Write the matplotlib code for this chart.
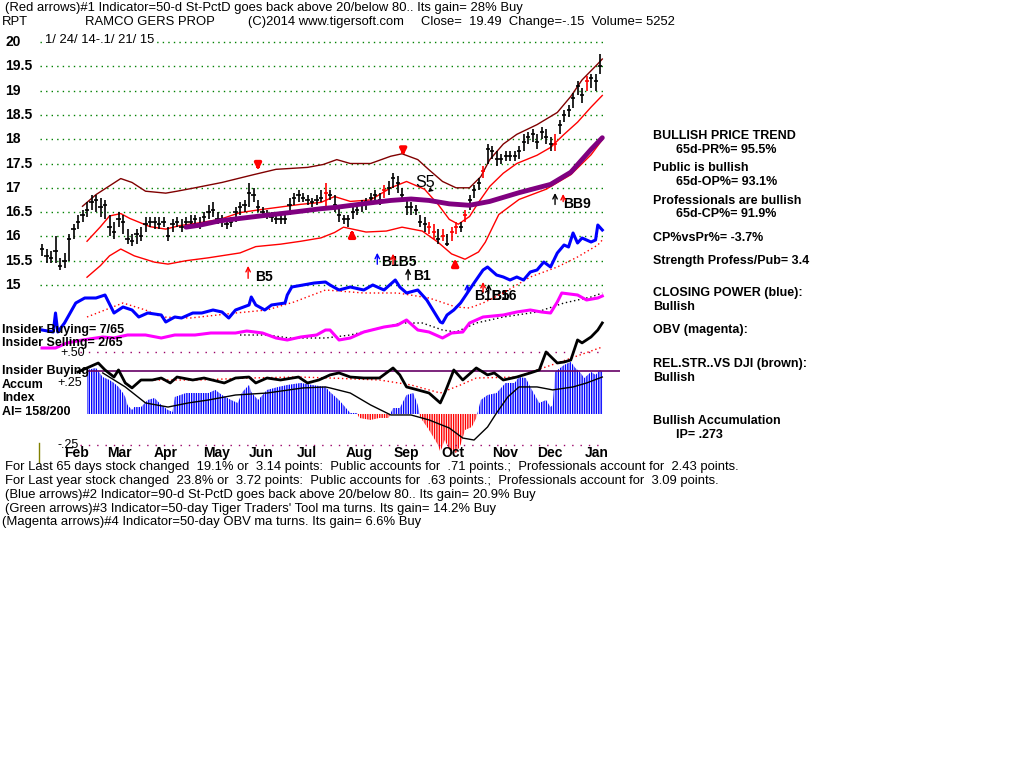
import matplotlib
matplotlib.use('Agg')
import matplotlib.pyplot as plt
import matplotlib.transforms as mtrans
import numpy as np

# ---------------- data ----------------
# daily bars sampled every 2 trading days (1/24/14 .. 1/21/15)
closes = [15.75, 15.6, 15.55, 15.7, 15.4, 15.5, 15.95, 16.15, 16.3, 16.45, 16.55, 16.7, 16.75, 16.6, 16.65,
          16.2, 16.1, 16.35, 16.3, 15.95, 15.9, 16.05, 16.0, 16.25, 16.3, 16.3, 16.25, 16.3, 16.0, 16.25,
          16.3, 16.2, 16.3, 16.3, 16.35, 16.25, 16.4, 16.5, 16.55, 16.35, 16.35, 16.25, 16.3, 16.5, 16.6,
          16.65, 16.9, 16.85, 16.6, 16.5, 16.45, 16.4, 16.35, 16.35, 16.35, 16.65, 16.8, 16.85, 16.8, 16.75,
          16.7, 16.75, 16.8, 16.9, 16.85, 16.65, 16.45, 16.35, 16.35, 16.5, 16.55, 16.65, 16.7, 16.8, 16.85,
          16.75, 16.95, 17.0, 17.2, 17.1, 16.85, 16.6, 16.6, 16.55, 16.3, 16.25, 16.2, 16.1, 15.95, 16.0,
          15.85, 16.1, 16.2, 16.2, 16.45, 16.75, 16.95, 17.1, 17.35, 17.8, 17.75, 17.6, 17.6, 17.65, 17.65,
          17.65, 17.75, 17.95, 18.05, 18.1, 17.95, 18.15, 18.05, 17.9, 17.9, 18.3, 18.5, 18.6, 18.85, 19.1,
          18.9, 19.2, 19.25, 19.2, 19.5]
highs = [15.85, 15.75, 15.7, 16.0, 15.55, 15.65, 16.05, 16.25, 16.45, 16.55, 16.7, 16.85, 16.85, 16.8, 16.75,
         16.45, 16.3, 16.5, 16.45, 16.15, 16.05, 16.15, 16.2, 16.4, 16.4, 16.4, 16.4, 16.4, 16.2, 16.35,
         16.4, 16.35, 16.4, 16.45, 16.45, 16.4, 16.5, 16.65, 16.7, 16.5, 16.45, 16.35, 16.4, 16.6, 16.7,
         16.75, 17.1, 17.0, 16.75, 16.6, 16.55, 16.5, 16.45, 16.45, 16.45, 16.8, 16.9, 16.95, 16.9, 16.85,
         16.8, 16.85, 16.95, 17.1, 16.95, 16.85, 16.6, 16.45, 16.45, 16.6, 16.65, 16.75, 16.8, 16.9, 16.95,
         16.9, 17.05, 17.15, 17.3, 17.25, 17.0, 16.75, 16.7, 16.65, 16.45, 16.4, 16.3, 16.25, 16.15, 16.15,
         16.05, 16.2, 16.3, 16.3, 16.55, 16.85, 17.05, 17.2, 17.45, 17.9, 17.85, 17.75, 17.7, 17.75, 17.75,
         17.75, 17.85, 18.1, 18.15, 18.2, 18.1, 18.25, 18.2, 18.05, 18.1, 18.4, 18.6, 18.7, 18.95, 19.2,
         19.05, 19.3, 19.35, 19.35, 19.75]
lows = [15.6, 15.45, 15.45, 15.45, 15.3, 15.35, 15.5, 15.95, 16.15, 16.3, 16.4, 16.55, 16.5, 16.4, 16.35,
        16.0, 15.95, 16.2, 16.05, 15.85, 15.8, 15.85, 15.9, 16.1, 16.2, 16.15, 16.15, 16.2, 15.9, 16.1,
        16.2, 16.1, 16.15, 16.2, 16.2, 16.15, 16.3, 16.35, 16.4, 16.25, 16.2, 16.15, 16.2, 16.3, 16.45,
        16.5, 16.6, 16.7, 16.5, 16.4, 16.35, 16.3, 16.25, 16.25, 16.25, 16.45, 16.65, 16.7, 16.7, 16.65,
        16.6, 16.65, 16.7, 16.6, 16.75, 16.5, 16.3, 16.25, 16.2, 16.35, 16.45, 16.5, 16.55, 16.65, 16.7,
        16.65, 16.8, 16.85, 17.0, 16.9, 16.7, 16.45, 16.45, 16.45, 16.2, 16.1, 16.05, 15.95, 15.85, 15.9,
        15.8, 15.9, 16.05, 16.1, 16.3, 16.55, 16.8, 16.95, 17.2, 17.5, 17.6, 17.45, 17.5, 17.55, 17.55,
        17.55, 17.6, 17.75, 17.9, 17.95, 17.8, 18.0, 17.9, 17.75, 17.75, 18.1, 18.35, 18.45, 18.65, 18.9,
        18.75, 19.0, 19.05, 19.0, 19.35]
red_bars = [63, 76, 86, 87, 89, 91, 92, 94, 98, 114, 121]

upper_days = [18, 24, 35, 40, 46, 55, 60, 68, 80, 94, 104, 118, 125, 131, 137, 146, 155, 160, 167, 172, 178,
              184, 190, 195, 199, 205, 211, 220, 229, 235, 240, 247, 249]
upper_band = [16.62, 16.86, 17.19, 17.11, 16.93, 16.89, 16.93, 17.0, 17.11, 17.27, 17.38, 17.42, 17.48, 17.58,
              17.5, 17.5, 17.65, 17.7, 17.58, 17.37, 17.13, 17.0, 17.0, 17.23, 17.58, 17.9, 18.1, 18.3, 18.55,
              18.88, 19.22, 19.55, 19.65]
mid_days = [20, 26, 30, 35, 39, 48, 55, 61, 70, 79, 88, 97, 115, 124, 130, 137, 146, 155, 162, 170, 176, 181,
            185, 190, 194, 199, 205, 211, 220, 226, 232, 238, 244, 249]
mid_band = [15.9, 16.2, 16.42, 16.47, 16.37, 16.2, 16.15, 16.22, 16.28, 16.35, 16.49, 16.55, 16.66, 16.7, 16.82,
            16.72, 16.75, 17.0, 17.13, 16.97, 16.66, 16.35, 16.25, 16.41, 16.7, 17.03, 17.3, 17.5, 17.67, 17.83,
            18.1, 18.35, 18.66, 18.9]
lower_days = [20, 26, 30, 35, 41, 50, 56, 64, 74, 88, 95, 106, 115, 124, 130, 134, 144, 153, 160, 169, 176, 182,
              188, 194, 197, 203, 212, 224, 235, 244, 249]
lower_band = [15.16, 15.4, 15.6, 15.74, 15.6, 15.47, 15.43, 15.5, 15.56, 15.66, 15.79, 15.84, 15.9, 15.97, 16.08,
              16.19, 16.09, 16.11, 16.19, 16.11, 15.88, 15.64, 15.53, 15.68, 15.88, 16.45, 16.76, 16.97, 17.27,
              17.68, 17.99]
ma65_days = [64, 70, 79, 88, 97, 110, 124, 131, 146, 155, 164, 172, 181, 190, 199, 212, 226, 235, 244, 249]
ma65 = [16.19, 16.23, 16.32, 16.37, 16.42, 16.49, 16.57, 16.6, 16.69, 16.74, 16.77, 16.74, 16.67, 16.64, 16.72,
        16.9, 17.07, 17.32, 17.79, 18.03]

cp_days = [0, 5, 6, 7, 10, 15, 19, 24, 28, 32, 36, 40, 43, 47, 53, 55, 59, 62, 67, 71, 76, 80, 83, 86, 92, 93,
           95, 99, 102, 108, 109, 111, 116, 121, 126, 128, 132, 137, 143, 147, 152, 157, 159, 162, 167, 171,
           177, 178, 180, 183, 186, 189, 192, 196, 198, 202, 205, 208, 211, 214, 217, 220, 223, 226, 229, 232,
           234, 236, 238, 240, 244, 246, 247, 249]
closing_power = [20, 18, 37, 18, 27, 47, 52, 52, 55, 37, 43, 40, 33, 37, 35, 28, 33, 32, 37, 37, 40, 38, 32, 40,
                 45, 53, 45, 40, 45, 47, 55, 63, 65, 67, 68, 65, 60, 63, 60, 65, 60, 70, 63, 57, 60, 50, 28, 27,
                 35, 40, 47, 57, 67, 80, 83, 75, 73, 70, 73, 70, 78, 80, 88, 83, 97, 105, 103, 117, 107, 112,
                 108, 110, 125, 120]
cpma_days = [20, 36, 46, 53, 66, 86, 100, 112, 126, 143, 158, 172, 184, 190, 196, 205, 217, 229, 238, 247, 249]
cp_ma = [33, 47, 40, 33, 32, 37, 40, 48, 60, 57, 57, 52, 43, 42, 47, 57, 73, 83, 93, 105, 110]

obv_days = [0, 6, 11, 18, 27, 32, 38, 46, 53, 59, 68, 75, 86, 91, 98, 104, 109, 115, 122, 126, 128, 132, 137,
            143, 152, 158, 162, 167, 172, 178, 182, 187, 190, 196, 205, 211, 217, 222, 226, 229, 231, 238, 242,
            247, 249]
obv = [12, 12, 17, 20, 23, 22, 25, 25, 22, 25, 25, 27, 27, 29, 27, 22, 20, 23, 25, 30, 30, 20, 22, 28, 33, 35,
       40, 30, 28, 22, 27, 28, 37, 43, 45, 48, 50, 48, 47, 58, 67, 65, 60, 62, 64]
obvma_days = [88, 100, 110, 126, 137, 150, 160, 169, 178, 184, 193, 205, 220, 232, 244, 249]
obv_ma = [25, 25, 22, 22, 25, 32, 37, 37, 30, 28, 37, 43, 48, 57, 63, 67]

acc_days = [20, 24, 27, 30, 32, 34, 36, 37, 38, 40, 41, 44, 47, 50, 53, 56, 58, 59, 64, 68, 74, 77, 80, 84, 87,
            89, 92, 93, 96, 98, 100, 105, 109, 115, 120, 126, 128, 132, 137, 140, 141, 146, 150, 154, 156, 159,
            162, 165, 167, 168, 172, 176, 177, 179, 181, 184, 186, 188, 191, 193, 195, 198, 202, 206, 210, 212,
            215, 217, 219, 221, 224, 226, 227, 228, 232, 235, 237, 239, 241, 244, 246, 248, 249]
accum_index = [0.355, 0.371, 0.298, 0.274, 0.25, 0.218, 0.169, 0.137, 0.073, 0.032, 0.056, 0.056, 0.113, 0.129,
               0.073, 0.032, 0.016, 0.137, 0.169, 0.169, 0.169, 0.194, 0.153, 0.113, 0.089, 0.177, 0.234, 0.177,
               0.113, 0.153, 0.194, 0.218, 0.234, 0.25, 0.234, 0.218, 0.177, 0.113, 0.008, 0.008, -0.032, -0.048,
               -0.032, -0.032, 0.048, 0.048, 0.153, 0.169, 0.073, -0.024, -0.129, -0.25, -0.306, -0.21, -0.29,
               -0.315, -0.25, -0.129, -0.105, -0.032, 0.113, 0.153, 0.169, 0.25, 0.25, 0.298, 0.29, 0.218, 0.153,
               0.089, 0.113, 0.056, 0.073, 0.339, 0.395, 0.42, 0.371, 0.339, 0.29, 0.339, 0.315, 0.355, 0.339]
rs_days = [16, 20, 25, 28, 32, 34, 37, 40, 44, 49, 53, 57, 60, 67, 72, 81, 86, 92, 95, 100, 106, 114, 118, 123,
           126, 128, 132, 137, 143, 150, 156, 159, 162, 167, 172, 177, 179, 183, 187, 193, 198, 201, 205, 211,
           217, 221, 224, 229, 232, 235, 238, 240, 244, 247, 249]
rel_strength = [0.339, 0.371, 0.411, 0.355, 0.298, 0.355, 0.25, 0.21, 0.274, 0.274, 0.29, 0.25, 0.298, 0.274,
                0.29, 0.25, 0.29, 0.298, 0.25, 0.29, 0.274, 0.298, 0.25, 0.274, 0.298, 0.315, 0.331, 0.298, 0.29,
                0.29, 0.371, 0.315, 0.218, 0.194, 0.169, 0.089, 0.169, 0.355, 0.274, 0.371, 0.315, 0.331, 0.274,
                0.298, 0.331, 0.355, 0.5, 0.411, 0.419, 0.435, 0.597, 0.573, 0.621, 0.677, 0.734]
rsma_days = [50, 70, 92, 114, 128, 150, 164, 177, 186, 193, 211, 229, 249]
rs_ma = [0.274, 0.274, 0.29, 0.298, 0.29, 0.274, 0.234, 0.169, 0.234, 0.29, 0.298, 0.411, 0.54]
aima_days = [27, 37, 46, 56, 65, 74, 86, 100, 116, 126, 128, 137, 146, 155, 164, 172, 181, 187, 192, 198, 202,
             207, 212, 220, 227, 236, 242, 249]
ai_ma = [0.331, 0.218, 0.089, 0.056, 0.089, 0.113, 0.153, 0.169, 0.21, 0.218, 0.21, 0.169, 0.073, -0.008, -0.008,
         -0.048, -0.113, -0.194, -0.21, -0.105, 0.008, 0.137, 0.218, 0.218, 0.194, 0.218, 0.25, 0.298]
insider_level = 0.347

price_levels = [20, 19.5, 19, 18.5, 18, 17.5, 17, 16.5, 16, 15.5, 15]
price_labels = ['20', '19.5', '19', '18.5', '18', '17.5', '17', '16.5', '16', '15.5', '15']
month_names = ['Feb', 'Mar', 'Apr', 'May', 'Jun', 'Jul', 'Aug', 'Sep', 'Oct', 'Nov', 'Dec', 'Jan']
month_days = [15.5, 34.5, 55, 77.5, 97.5, 117.5, 141, 162, 182.5, 206, 225.5, 246.5]

# ---------------- figure ----------------
W, H = 1024, 768
fig = plt.figure(figsize=(W / 100, H / 100), dpi=100)
fig.patch.set_facecolor('white')
plt.rcParams['hatch.linewidth'] = 1.0

SANS = ['Liberation Sans', 'DejaVu Sans']
XLIM = (-0.889, 250.2)


def px_axes(x0, y0, x1, y1):
    ax = fig.add_axes([x0 / W, 1 - y1 / H, (x1 - x0) / W, (y1 - y0) / H])
    ax.set_axis_off()
    ax.patch.set_alpha(0)
    ax.set_xlim(*XLIM)
    return ax


def ftext(x, y, s, size=9.4, family=None, weight='normal', color='black', ha='left', **kw):
    fig.text(x / W, 1 - y / H, s, fontsize=size, family=family or SANS, weight=weight,
             color=color, ha=ha, va='center', **kw)


# price panel
axp = px_axes(40, 32.28, 605, 309.3)
axp.set_ylim(14.5, 20.2)
for lvl in price_levels:
    axp.axhline(lvl, color='#008000', ls=(0, (1, 3)), lw=1, zorder=1)
ylab_tr = mtrans.blended_transform_factory(fig.transFigure, axp.transData)
for lvl, lab in zip(price_levels, price_labels):
    axp.text(5 / W, lvl, lab, transform=ylab_tr, fontsize=10, family=SANS, weight='bold',
             va='center', ha='left', clip_on=False)

axp.plot(upper_days, upper_band, color='#800000', lw=1, zorder=2)
axp.plot(mid_days, mid_band, color='#ff0000', lw=1, zorder=2)
axp.plot(lower_days, lower_band, color='#ff0000', lw=1, zorder=2)

bar_days = np.arange(len(closes)) * 2
bar_cols = ['#ff0000' if i in red_bars else 'black' for i in range(len(closes))]
axp.vlines(bar_days, lows, highs, colors=bar_cols, lw=1.2, zorder=3)
axp.hlines(closes, bar_days - 0.9, bar_days + 0.9, colors=bar_cols, lw=1.2, zorder=3)
axp.plot(ma65_days, ma65, color='#800080', lw=3.5, zorder=4, solid_capstyle='round')

# signal arrows (thick red)
for d, tail, tip in [(96, 17.55, 17.3), (160.5, 17.85, 17.6), (137.8, 15.95, 16.2), (183.6, 15.35, 15.6)]:
    axp.annotate('', xy=(d, tip), xytext=(d, tail),
                 arrowprops=dict(arrowstyle='-|>', color='#ff0000', lw=2.5, mutation_scale=9), zorder=5)
# thin arrows
thin = [(91.6, 15.08, 15.45, '#ff0000'), (149, 15.37, 15.72, '#0000ff'), (156, 15.37, 15.70, '#ff0000'),
        (162.7, 15.05, 15.40, 'black'), (189, 14.77, 15.08, '#0000ff'), (196, 14.8, 15.12, '#ff0000'),
        (198.5, 14.77, 15.08, 'black'), (228, 16.6, 16.95, 'black'), (231.6, 16.66, 16.93, '#ff0000')]
for d, tail, tip, c in thin:
    axp.annotate('', xy=(d, tip), xytext=(d, tail),
                 arrowprops=dict(arrowstyle='->', color=c, lw=1, mutation_scale=8), zorder=5)
axp.annotate('', xy=(170.5, 16.88), xytext=(174, 17.0),
             arrowprops=dict(arrowstyle='->', color='black', lw=1, mutation_scale=6))
for d, p, s in [(94.5, 15.17, 'B5'), (150.5, 15.47, 'B1B5'), (165, 15.18, 'B1'), (166, 17.1, 'S5'),
                (192, 14.77, 'B1B5'), (199.5, 14.77, 'B16'), (231.5, 16.66, 'BB9')]:
    axp.text(d, p, s, fontsize=10 if s != 'S5' else 11.5, family=SANS,
             weight='bold' if s != 'S5' else 'normal', va='center', ha='left')

# closing power
axc = px_axes(40, 220, 605, 350)
axc.set_ylim(0, 130)
axc.plot(cpma_days, cp_ma, color='#ff0000', lw=1, ls=(0, (1, 2)))
axc.plot(cp_days, closing_power, color='#0000ff', lw=2.2)

# OBV
axo = px_axes(40, 280, 605, 360)
axo.set_ylim(0, 80)
axo.plot(obvma_days, obv_ma, color='black', lw=1, ls=(0, (1, 2)))
axo.plot(obv_days, obv, color='#ff00ff', lw=2.2)

# accumulation / relative strength panel
axa = px_axes(40, 315, 605, 460)
axa.set_ylim(-0.371, 0.798)
axa.hlines([0.5, -0.25], 17, 250, colors='#990066', lw=1, ls=(0, (1, 5)))
acc_d = np.array(acc_days, dtype=float)
acc_v = np.array(accum_index)
axa.fill_between(acc_d, 0, acc_v, where=acc_v >= 0, interpolate=True, facecolor='none',
                 edgecolor='#0000ff', hatch='|' * 7, lw=0)
axa.fill_between(acc_d, 0, acc_v, where=acc_v <= 0, interpolate=True, facecolor='none',
                 edgecolor='#ff0000', hatch='|' * 7, lw=0)
axa.hlines(insider_level, 20, 257, colors='#660066', lw=1.2, clip_on=False)
axa.plot(aima_days, ai_ma, color='black', lw=1)
axa.plot(rsma_days, rs_ma, color='#ff0000', lw=1, ls=(0, (1, 2)))
axa.plot(rs_days, rel_strength, color='black', lw=2)

mon_tr = mtrans.blended_transform_factory(axa.transData, fig.transFigure)
for d, m in zip(month_days, month_names):
    axa.text(d, 1 - 453 / H, m, transform=mon_tr, fontsize=10, family=SANS, weight='bold',
             ha='center', va='center', clip_on=False)
fig.add_artist(plt.Line2D([39 / W, 39 / W], [1 - 443 / H, 1 - 462 / H], color='#808000', lw=1))

# ---------------- texts ----------------
ftext(5, 8, "(Red arrows)#1 Indicator=50-d St-PctD goes back above 20/below 80.. Its gain= 28% Buy")
ftext(2, 22, "RPT")
ftext(85, 22, "RAMCO GERS PROP")
ftext(248, 22, "(C)2014 www.tigersoft.com")
ftext(421, 22, "Close=  19.49  Change=-.15  Volume= 5252")
ftext(45, 40, "1/ 24/ 14-.1/ 21/ 15", bbox=dict(facecolor='white', edgecolor='none', pad=0.5))

ftext(2, 330, "Insider Buying= 7/65", size=9, weight='bold')
ftext(2, 343, "Insider Selling= 2/65", size=9, weight='bold')
ftext(60, 353, "+.50", size=9)
ftext(2, 371, "Insider Buying", size=9, weight='bold')
ftext(2, 385, "Accum", size=9, weight='bold')
ftext(57, 383, "+.25", size=9)
ftext(2, 398, "Index", size=9, weight='bold')
ftext(2, 412, "AI= 158/200", size=9, weight='bold')
ftext(57, 445, "-.25", size=9)

right = [(653, 136, "BULLISH PRICE TREND"), (676, 150, "65d-PR%= 95.5%"), (653, 168, "Public is bullish"),
         (676, 182, "65d-OP%= 93.1%"), (653, 201, "Professionals are bullish"), (676, 214, "65d-CP%= 91.9%"),
         (653, 238, "CP%vsPr%= -3.7%"), (653, 261, "Strength Profess/Pub= 3.4"),
         (653, 293, "CLOSING POWER (blue):"), (653, 307, "Bullish"), (653, 330, "OBV (magenta):"),
         (653, 364, "REL.STR..VS DJI (brown):"), (653, 378, "Bullish"), (653, 421, "Bullish Accumulation"),
         (676, 435, "IP= .273")]
for x, y, s in right:
    ftext(x, y, s, size=9, weight='bold')

ftext(5, 467, "For Last 65 days stock changed  19.1% or  3.14 points:  Public accounts for  .71 points.;  Professionals account for  2.43 points.")
ftext(5, 481, "For Last year stock changed  23.8% or  3.72 points:  Public accounts for  .63 points.;  Professionals account for  3.09 points.")
ftext(5, 495, "(Blue arrows)#2 Indicator=90-d St-PctD goes back above 20/below 80.. Its gain= 20.9% Buy")
ftext(5, 509, "(Green arrows)#3 Indicator=50-day Tiger Traders' Tool ma turns. Its gain= 14.2% Buy")
ftext(2, 522, "(Magenta arrows)#4 Indicator=50-day OBV ma turns. Its gain= 6.6% Buy")

fig.savefig('out.png', dpi=100, facecolor='white')
